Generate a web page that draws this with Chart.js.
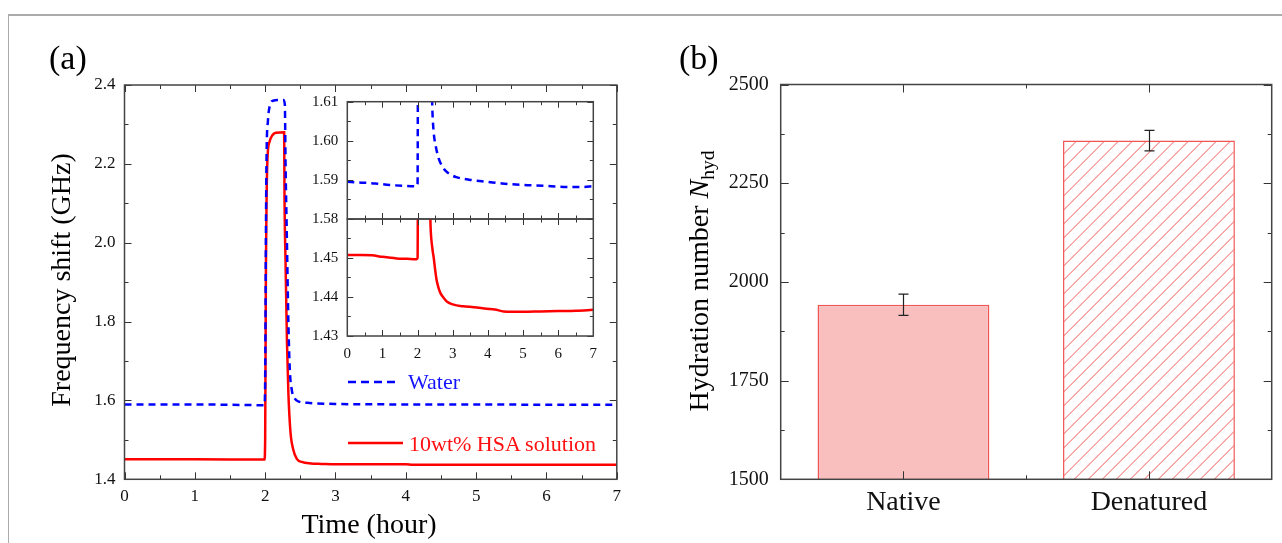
<!DOCTYPE html>
<html>
<head>
<meta charset="utf-8">
<title>Frequency shift and hydration number</title>
<script src="https://cdn.jsdelivr.net/npm/chart.js@4.4.1/dist/chart.umd.min.js"></script>
<style>
  html, body { margin: 0; padding: 0; background: #fff; }
  body {
    width: 1282px; height: 543px; position: relative; overflow: hidden;
    font-family: "Liberation Serif", "Times New Roman", serif; color: #000;
  }
  canvas { position: absolute; left: 0; top: 0; }
  .frame {
    position: absolute; left: 8px; top: 14px; width: 1290px; height: 540px;
    border-top: 2px solid #ababab; border-left: 1px solid #ababab;
  }
  .txt { position: absolute; white-space: nowrap; line-height: 1; }
  .panel { font-size: 34px; line-height: 34px; top: 41px; }
  .axis-title { font-size: 28px; line-height: 28px; text-align: center; }
  .rot { transform: rotate(-90deg); transform-origin: 50% 50%; }
  .legend { font-size: 22px; line-height: 22px; }
  sub { font-size: 0.7em; line-height: 0; vertical-align: -0.3em; }
  svg { position: absolute; overflow: visible; }
</style>
</head>
<body>
<div class="frame"></div>
<canvas id="mainChart" width="1282" height="543"></canvas>
<canvas id="insetWaterChart" width="1282" height="543"></canvas>
<canvas id="insetHsaChart" width="1282" height="543"></canvas>
<canvas id="barChart" width="1282" height="543"></canvas>

<div class="txt panel" style="left:49px;">(a)</div>
<div class="txt panel" style="left:679px;">(b)</div>
<div class="txt axis-title" style="left:219px; top:510px; width:300px;">Time (hour)</div>
<div class="txt axis-title rot" style="left:-99px; top:266px; width:320px; height:28px;">Frequency shift (GHz)</div>
<div class="txt axis-title rot" style="left:539px; top:267px; width:320px; height:28px;">Hydration number <i>N</i><sub>hyd</sub></div>

<svg style="left:0; top:0;" width="1" height="1">
  <line x1="348" y1="382" x2="395" y2="382" stroke="#0000ff" stroke-width="2.5" stroke-dasharray="8 5"></line>
  <line x1="348" y1="443" x2="403" y2="443" stroke="#ff0000" stroke-width="2.5"></line>
</svg>
<div class="txt legend" style="left:408px; top:371px; color:#1414ff;">Water</div>
<div class="txt legend" style="left:409px; top:433px; color:#ff1010;">10wt% HSA solution</div>

<script>
const SERIF = '"Liberation Serif", "Times New Roman", serif';
const PAGE_W = 1282;
const PAGE_H = 543;

// (a) main panel
const mainXTicks = [0, 1, 2, 3, 4, 5, 6, 7];
const mainXMinor = [0.5, 1.5, 2.5, 3.5, 4.5, 5.5, 6.5];
const mainYTicks = [1.4, 1.6, 1.8, 2.0, 2.2, 2.4];
const mainYMinor = [1.5, 1.7, 1.9, 2.1, 2.3];

const waterTime = [0, 1, 1.99, 2.0, 2.01, 2.02, 2.04, 2.07, 2.11, 2.2, 2.26, 2.28, 2.29, 2.31, 2.33, 2.35, 2.38, 2.42, 2.48, 2.6, 3, 4, 5, 6, 7];
const waterShift = [1.590, 1.590, 1.588, 1.65, 2.0, 2.22, 2.31, 2.350, 2.360, 2.362, 2.362, 2.35, 2.20, 2.0, 1.80, 1.68, 1.625, 1.605, 1.597, 1.594, 1.591, 1.590, 1.590, 1.589, 1.589];

const hsaTime = [0, 1, 1.99, 2.0, 2.01, 2.03, 2.06, 2.10, 2.15, 2.27, 2.275, 2.29, 2.31, 2.33, 2.36, 2.40, 2.45, 2.52, 2.65, 2.8, 3.0, 4.0, 4.1, 5, 6, 7];
const hsaShift = [1.451, 1.451, 1.450, 1.50, 1.90, 2.20, 2.255, 2.272, 2.279, 2.280, 2.12, 1.95, 1.75, 1.62, 1.52, 1.475, 1.452, 1.444, 1.440, 1.439, 1.438, 1.438, 1.437, 1.437, 1.437, 1.437];

// (a) inset
const insetXTicks = [0, 1, 2, 3, 4, 5, 6, 7];
const insetXMinor = [0.5, 1.5, 2.5, 3.5, 4.5, 5.5, 6.5];
const insetWaterYTicks = [1.58, 1.59, 1.60, 1.61];
const insetWaterYMinor = [1.585, 1.595, 1.605];
const insetHsaYTicks = [1.43, 1.44, 1.45];
const insetHsaYMinor = [1.435, 1.445, 1.455];

const insetWaterTime = [0, 0.4, 0.8, 1.2, 1.6, 1.98, 2.0, 2.01, 2.40, 2.42, 2.46, 2.52, 2.6, 2.7, 2.8, 2.95, 3.1, 3.5, 4.0, 4.4, 4.8, 5.3, 5.8, 6.3, 6.7, 7.0];
const insetWaterShift = [1.5895, 1.5893, 1.5891, 1.5887, 1.5885, 1.5884, 1.5890, 1.6150, 1.6150, 1.6080, 1.6020, 1.5985, 1.5955, 1.5935, 1.5923, 1.5913, 1.5907, 1.5900, 1.5895, 1.5891, 1.5888, 1.5886, 1.5884, 1.5882, 1.5882, 1.5884];

const insetHsaTime = [0, 0.4, 0.7, 1.0, 1.4, 1.7, 1.97, 2.0, 2.01, 2.35, 2.37, 2.42, 2.46, 2.50, 2.54, 2.60, 2.65, 2.75, 2.84, 3.0, 3.3, 3.6, 3.97, 4.2, 4.45, 5.0, 5.5, 6.0, 6.5, 7.0];
const insetHsaShift = [1.4508, 1.4508, 1.4507, 1.4503, 1.4499, 1.4498, 1.4497, 1.4500, 1.4650, 1.4650, 1.4580, 1.4525, 1.4500, 1.4470, 1.4444, 1.4422, 1.4410, 1.4397, 1.4388, 1.4381, 1.4376, 1.4374, 1.4370, 1.4368, 1.4363, 1.4362, 1.4363, 1.4364, 1.4365, 1.4367];

// (b) bar panel
const proteinStates = ["Native", "Denatured"];
const hydrationNumbers = [1942, 2358];
const hydrationErrors = [27, 26];
const hydrationYTicks = [1500, 1750, 2000, 2250, 2500];
const hydrationYMinor = [1625, 1875, 2125, 2375];
const stateMajor = [0, 1];
const stateMinor = [0.5];

const HATCHED_BAR = 1;
const HATCH_COLOR = "#f05a5a";
const HATCH_STEP = 14;

// inward ticks on all four sides plus the box
const frameTicks = {
  id: "frameTicks",
  afterDraw(chart, args, opts) {
    const { ctx, chartArea: a, scales } = chart;
    const line = (x1, y1, x2, y2) => {
      ctx.beginPath();
      ctx.moveTo(x1, y1);
      ctx.lineTo(x2, y2);
      ctx.stroke();
    };
    const mark = (scale, values, len) => {
      (values || []).forEach((v) => {
        const p = Math.round(scale.getPixelForValue(v)) + 0.5;
        if (scale.isHorizontal()) {
          line(p, a.bottom, p, a.bottom - len);
          line(p, a.top, p, a.top + len);
        } else {
          line(a.left, p, a.left + len, p);
          line(a.right, p, a.right - len, p);
        }
      });
    };
    ctx.save();
    ctx.strokeStyle = "#333";
    ctx.lineWidth = 1;
    mark(scales.x, opts.xMajor, opts.majorLen);
    mark(scales.x, opts.xMinor, opts.minorLen);
    mark(scales.y, opts.yMajor, opts.majorLen);
    mark(scales.y, opts.yMinor, opts.minorLen);
    ctx.strokeStyle = "#444";
    ctx.lineWidth = 1.5;
    ctx.strokeRect(a.left, a.top, a.right - a.left, a.bottom - a.top);
    ctx.restore();
  },
};

// diagonal hatch inside the denatured bar
const hatchBars = {
  id: "hatchBars",
  afterDatasetsDraw(chart) {
    const { ctx, chartArea } = chart;
    const bar = chart.getDatasetMeta(0).data[HATCHED_BAR];
    const { x, y, base, width } = bar.getProps(["x", "y", "base", "width"], true);
    const bottom = Math.min(base, chartArea.bottom);
    const left = x - width / 2;
    const right = x + width / 2;
    const h = bottom - y;
    ctx.save();
    ctx.beginPath();
    ctx.rect(left + 1, y + 1, width - 2, h - 1);
    ctx.clip();
    ctx.strokeStyle = HATCH_COLOR;
    ctx.lineWidth = 1;
    for (let s = left - h; s < right; s += HATCH_STEP) {
      ctx.beginPath();
      ctx.moveTo(s, bottom);
      ctx.lineTo(s + h, y);
      ctx.stroke();
    }
    ctx.restore();
  },
};

const errorBars = {
  id: "errorBars",
  afterDatasetsDraw(chart) {
    const { ctx } = chart;
    const y = chart.scales.y;
    const meta = chart.getDatasetMeta(0);
    ctx.save();
    ctx.strokeStyle = "#222";
    ctx.lineWidth = 1.2;
    meta.data.forEach((bar, i) => {
      const hi = y.getPixelForValue(hydrationNumbers[i] + hydrationErrors[i]);
      const lo = y.getPixelForValue(hydrationNumbers[i] - hydrationErrors[i]);
      const x = Math.round(bar.x) + 0.5;
      ctx.beginPath();
      ctx.moveTo(x, hi);
      ctx.lineTo(x, lo);
      ctx.moveTo(x - 5, hi);
      ctx.lineTo(x + 5, hi);
      ctx.moveTo(x - 5, lo);
      ctx.lineTo(x + 5, lo);
      ctx.stroke();
    });
    ctx.restore();
  },
};

function areaPadding(area, yWidth, xHeight) {
  return {
    left: area.left - yWidth,
    top: area.top,
    right: PAGE_W - area.right,
    bottom: PAGE_H - area.bottom - xHeight,
  };
}

function valueAxis(min, max, tickValues, opts) {
  return {
    type: "linear",
    min,
    max,
    display: opts.display !== false,
    afterBuildTicks: (scale) => {
      scale.ticks = tickValues.map((value) => ({ value }));
    },
    afterFit: (scale) => {
      if (scale.isHorizontal()) {
        scale.height = opts.size;
      } else {
        scale.width = opts.size;
      }
    },
    grid: { display: false, drawTicks: false },
    border: { display: false },
    ticks: {
      padding: opts.padding,
      color: "#111",
      autoSkip: false,
      maxRotation: 0,
      font: { family: SERIF, size: opts.fontSize },
      callback: (value) => opts.format(value),
    },
  };
}

function lineDataset(times, values, color, dash) {
  return {
    data: times.map((t, i) => ({ x: t, y: values[i] })),
    borderColor: color,
    borderWidth: 2.5,
    borderDash: dash,
    pointRadius: 0,
    fill: false,
    cubicInterpolationMode: "monotone",
  };
}

function lineChart(canvasId, datasets, setup) {
  return new Chart(document.getElementById(canvasId), {
    type: "line",
    data: { datasets },
    options: {
      responsive: false,
      animation: false,
      events: [],
      layout: { padding: areaPadding(setup.area, setup.yWidth, setup.xHeight) },
      plugins: {
        legend: { display: false },
        tooltip: { enabled: false },
        frameTicks: setup.ticks,
      },
      scales: { x: setup.x, y: setup.y },
    },
    plugins: [frameTicks],
  });
}

const fixed = (digits) => (value) => Number(value).toFixed(digits);

// (a) main
lineChart("mainChart", [
  lineDataset(waterTime, waterShift, "#0000ff", [7, 5]),
  lineDataset(hsaTime, hsaShift, "#ff0000", []),
], {
  area: { left: 124.5, right: 616.8, top: 85, bottom: 479.3 },
  yWidth: 60,
  xHeight: 40,
  x: valueAxis(0, 7, mainXTicks, { size: 40, padding: 7, fontSize: 17, format: fixed(0) }),
  y: valueAxis(1.4, 2.4, mainYTicks, { size: 60, padding: 9, fontSize: 17, format: fixed(1) }),
  ticks: { xMajor: mainXTicks, xMinor: mainXMinor, yMajor: mainYTicks, yMinor: mainYMinor, majorLen: 7, minorLen: 4 },
});

// (a) inset, water part
lineChart("insetWaterChart", [
  lineDataset(insetWaterTime, insetWaterShift, "#0000ff", [7, 5]),
], {
  area: { left: 347.3, right: 593.3, top: 101.7, bottom: 219 },
  yWidth: 50,
  xHeight: 0,
  x: valueAxis(0, 7, insetXTicks, { display: false, size: 0, padding: 0, fontSize: 15, format: fixed(0) }),
  y: valueAxis(1.58, 1.61, insetWaterYTicks, { size: 50, padding: 9, fontSize: 15, format: fixed(2) }),
  ticks: { xMajor: insetXTicks, xMinor: insetXMinor, yMajor: insetWaterYTicks, yMinor: insetWaterYMinor, majorLen: 6, minorLen: 3.5 },
});

// (a) inset, HSA part
lineChart("insetHsaChart", [
  lineDataset(insetHsaTime, insetHsaShift, "#ff0000", []),
], {
  area: { left: 347.3, right: 593.3, top: 219, bottom: 336 },
  yWidth: 50,
  xHeight: 30,
  x: valueAxis(0, 7, insetXTicks, { size: 30, padding: 9, fontSize: 15, format: fixed(0) }),
  y: valueAxis(1.43, 1.46, insetHsaYTicks, { size: 50, padding: 9, fontSize: 15, format: fixed(2) }),
  ticks: { xMajor: insetXTicks, xMinor: insetXMinor, yMajor: insetHsaYTicks.concat([1.46]), yMinor: insetHsaYMinor, majorLen: 6, minorLen: 3.5 },
});

// (b) bars
const barArea = { left: 780.7, right: 1271.7, top: 84.5, bottom: 479.3 };
new Chart(document.getElementById("barChart"), {
  type: "bar",
  data: {
    labels: proteinStates,
    datasets: [{
      data: hydrationNumbers,
      backgroundColor: ["#f9bfbf", "#ffffff"],
      borderColor: "#f05555",
      borderWidth: 1.5,
      barPercentage: 0.7,
      categoryPercentage: 1,
    }],
  },
  options: {
    responsive: false,
    animation: false,
    events: [],
    layout: { padding: areaPadding(barArea, 80, 50) },
    plugins: {
      legend: { display: false },
      tooltip: { enabled: false },
      frameTicks: { xMajor: stateMajor, xMinor: stateMinor, yMajor: hydrationYTicks, yMinor: hydrationYMinor, majorLen: 8, minorLen: 4 },
    },
    scales: {
      x: {
        type: "category",
        afterFit: (scale) => { scale.height = 50; },
        grid: { display: false, drawTicks: false },
        border: { display: false },
        ticks: { padding: 7, color: "#111", font: { family: SERIF, size: 28 } },
      },
      y: valueAxis(1500, 2500, hydrationYTicks, { size: 80, padding: 12, fontSize: 20, format: fixed(0) }),
    },
  },
  plugins: [frameTicks, hatchBars, errorBars],
});
</script>
</body>
</html>
